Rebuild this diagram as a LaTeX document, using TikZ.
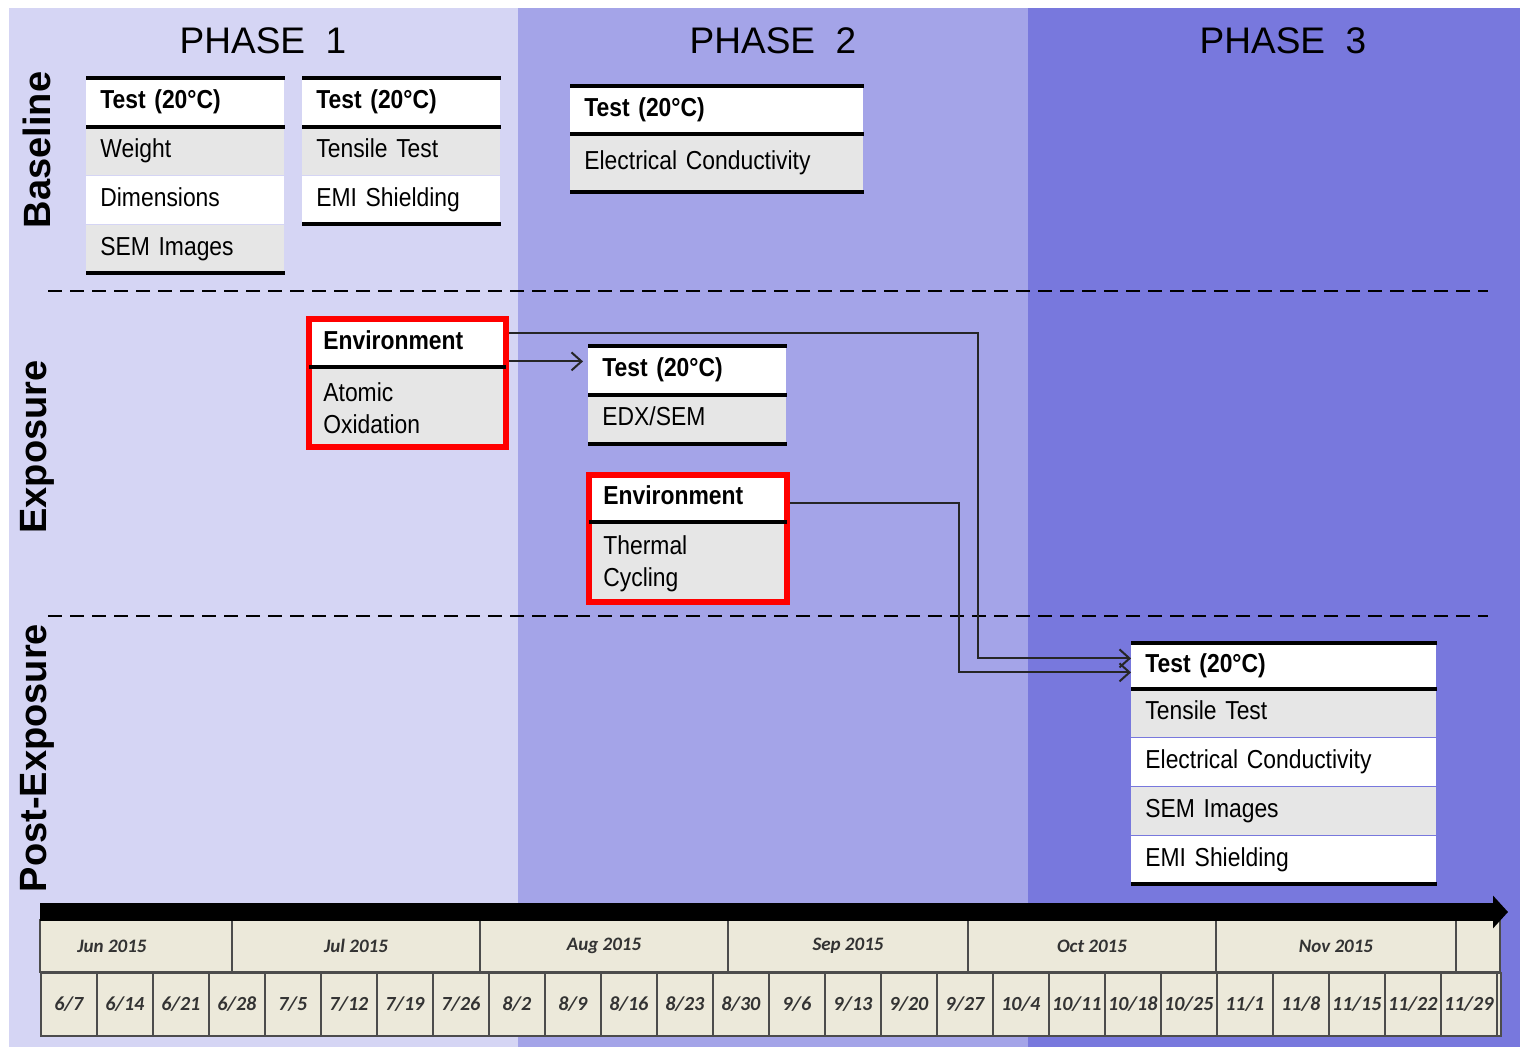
\documentclass[tikz,border=0pt]{standalone}
\usepackage{fontspec}
\setmainfont[FakeStretch=0.88,WordSpace=0.8]{Liberation Sans}
\newfontfamily\widefont{Liberation Sans}
\newfontfamily\calfont{Carlito}
\usetikzlibrary{arrows.meta,positioning}

\definecolor{phaseA}{RGB}{213,213,244}
\definecolor{phaseB}{RGB}{164,164,232}
\definecolor{phaseC}{RGB}{120,120,221}
\definecolor{rowgrey}{RGB}{230,230,230}
\definecolor{cream}{RGB}{236,233,218}

\begin{document}
\begin{tikzpicture}[x=0.5pt,y=-0.5pt,
  cell/.style={anchor=north west,inner xsep=7pt,inner ysep=0pt,minimum height=24pt,align=left,font=\fontsize{13}{16}\selectfont,execute at begin node=\strut},
  headcell/.style={cell,fill=white,font=\fontsize{13}{16}\selectfont\bfseries},
  greycell/.style={cell,fill=rowgrey},
  whitecell/.style={cell,fill=white},
  rule/.style={line width=2pt},
  envframe/.style={draw=red,line width=3pt},
  conn/.style={draw=black!85,line width=1pt,-{Straight Barb[length=5pt,width=9pt]}},
  divider/.style={line width=1pt,dash pattern=on 7pt off 4pt},
  phasetitle/.style={font=\widefont\fontsize{18.5}{22}\selectfont},
  rowlabel/.style={rotate=90,font=\widefont\bfseries\fontsize{19}{22}\selectfont},
  monthcell/.style={fill=cream,draw=black!70,line width=0.8pt},
  monthlabel/.style={font=\calfont\bfseries\itshape\fontsize{9.5}{11}\selectfont,text=black!80},
  weekcell/.style={anchor=north west,fill=cream,draw=black!70,line width=0.8pt,minimum width=28pt,minimum height=31.5pt,inner sep=0pt,font=\calfont\bfseries\itshape\fontsize{10}{12}\selectfont,text=black!80}
]
\useasboundingbox (0,0) rectangle (1520,1047);
\fill[phaseA] (9,8) rectangle (518,1047);
\fill[phaseB] (518,8) rectangle (1028,1047);
\fill[phaseC] (1028,8) rectangle (1520,1047);

\node[phasetitle] (ph1) at (263,41) {PHASE\ \ 1};
\node[phasetitle] (ph2) at (773,41) {PHASE\ \ 2};
\node[phasetitle] (ph3) at (1283,41) {PHASE\ \ 3};

\node[rowlabel] (lbase) at (37,150) {Baseline};
\node[rowlabel] (lexpo) at (37,447) {Exposure};
\node[rowlabel] (lpost) at (37,758) {Post-Exposure};

\draw[divider] (48,291) -- (1488,291);
\draw[divider] (48,616) -- (1488,616);

\node[headcell,text width=85pt] (b1h) at (86,78) {Test (20°C)};
\node[greycell,text width=85pt,below=0pt of b1h] (b1r1) {Weight};
\node[whitecell,text width=85pt,below=0pt of b1r1] (b1r2) {Dimensions};
\node[greycell,text width=85pt,below=0pt of b1r2] (b1r3) {SEM Images};

\node[headcell,text width=85pt] (b2h) at (302,78) {Test (20°C)};
\node[greycell,text width=85pt,below=0pt of b2h] (b2r1) {Tensile Test};
\node[whitecell,text width=85pt,below=0pt of b2r1] (b2r2) {EMI Shielding};

\node[headcell,text width=132.5pt,minimum height=23.5pt] (b3h) at (570,86) {Test (20°C)};
\node[greycell,text width=132.5pt,minimum height=28.5pt,below=0pt of b3h] (b3r1) {Electrical Conductivity};

\node[headcell,text width=84pt,minimum height=23.5pt] (e1h) at (309,319) {Environment};
\node[greycell,text width=84pt,minimum height=39.5pt,below=0pt of e1h] (e1b) {Atomic\\Oxidation};

\node[headcell,text width=85pt] (b4h) at (588,346) {Test (20°C)};
\node[greycell,text width=85pt,below=0pt of b4h] (b4r1) {EDX/SEM};

\node[headcell,text width=84.5pt,minimum height=23pt] (e2h) at (589,475) {Environment};
\node[greycell,text width=84.5pt,minimum height=39.5pt,below=0pt of e2h] (e2b) {Thermal\\Cycling};

\node[headcell,text width=138.5pt,minimum height=22.5pt] (b5h) at (1131,643) {Test (20°C)};
\node[greycell,text width=138.5pt,below=0pt of b5h] (b5r1) {Tensile Test};
\node[whitecell,text width=138.5pt,below=0pt of b5r1] (b5r2) {Electrical Conductivity};
\node[greycell,text width=138.5pt,below=0pt of b5r2] (b5r3) {SEM Images};
\node[whitecell,text width=138.5pt,below=0pt of b5r3] (b5r4) {EMI Shielding};

\coordinate (bend1) at (978,333);
\coordinate (bend2) at (959,502);
\draw[conn,shorten >=2.5pt] ([yshift=4.5pt]b4h.west -| e1h.east) -- ([yshift=4.5pt]b4h.west);
\draw[conn] ([yshift=4.75pt]e1h.east) -| ([yshift=3.75pt]b5h.west -| bend1) -- ([yshift=3.75pt]b5h.west);
\draw[conn] ([yshift=-2.25pt]e2h.east) -| ([yshift=-3.25pt]b5h.west -| bend2) -- ([yshift=-3.25pt]b5h.west);

\draw[envframe] (e1h.north west) rectangle (e1b.south east);
\draw[envframe] (e2h.north west) rectangle (e2b.south east);
\draw[rule] (e1h.south west) -- (e1h.south east);
\draw[rule] (e2h.south west) -- (e2h.south east);
\foreach \h/\l in {b1h/b1r3,b2h/b2r2,b3h/b3r1,b4h/b4r1,b5h/b5r4}{
  \draw[rule] (\h.north west) -- (\h.north east);
  \draw[rule] (\h.south west) -- (\h.south east);
  \draw[rule] (\l.south west) -- (\l.south east);
}

\foreach \xa/\xb/\xc/\mon [count=\i] in {40/232/112/Jun 2015,232/480/356/Jul 2015,480/728/604/Aug 2015,728/968/848/Sep 2015,968/1216/1092/Oct 2015,1216/1456/1336/Nov 2015}{
  \draw[monthcell] (\xa,920) rectangle (\xb,972);
  \node[monthlabel] (mon\i) at (\xc,946) {\mon};
}
\draw[monthcell] (1456,920) rectangle (1500,972);
\foreach \wk [count=\i from 0] in {6/7,6/14,6/21,6/28,7/5,7/12,7/19,7/26,8/2,8/9,8/16,8/23,8/30,9/6,9/13,9/20,9/27,10/4,10/11,10/18,10/25,11/1,11/8,11/15,11/22,11/29}
  \node[weekcell] (wk\i) at ({40+56*\i},972) {\wk};
\node[weekcell,minimum width=2pt] (wkend) at (1496,972) {};

\coordinate (tlstart) at (40,912);
\coordinate (tlend) at (1508,912);
\draw[line width=9pt,-{Triangle[length=7.5pt,width=16pt]}] (tlstart) -- (tlend);
\end{tikzpicture}
\end{document}
